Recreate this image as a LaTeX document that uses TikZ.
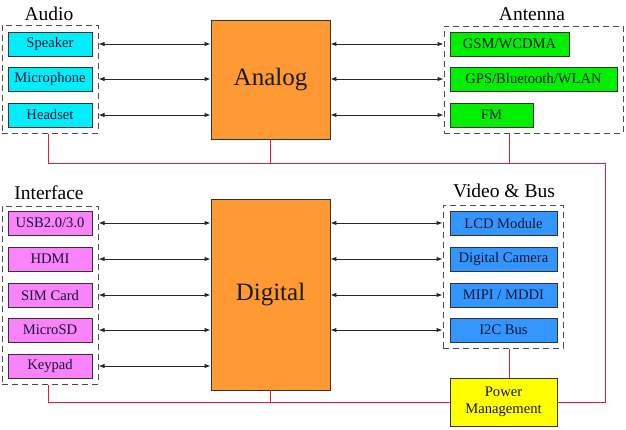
\documentclass[tikz,border=0pt]{standalone}
\usepackage{fontspec}
\setmainfont{Liberation Serif}
\usetikzlibrary{arrows.meta}
\definecolor{cy}{RGB}{0,238,250}
\definecolor{gr}{RGB}{0,240,0}
\definecolor{mg}{RGB}{250,130,250}
\definecolor{bl}{RGB}{51,150,255}
\definecolor{ye}{RGB}{255,255,0}
\definecolor{og}{RGB}{255,153,51}
\definecolor{rd}{RGB}{228,30,50}
\definecolor{tx}{RGB}{20,20,50}
\begin{document}
\begin{tikzpicture}[x=1pt,y=-1pt,
  box/.style={draw=black!80, line width=0.9pt, inner sep=0pt, text=tx, font=\fontsize{14.6}{16.5}\selectfont, minimum height=24},
  chip/.style={draw=black!80, line width=0.9pt, fill=og, inner sep=0pt, text=black!90, font=\fontsize{25}{28}\selectfont, minimum width=119},
  grp/.style={draw=black!70, line width=1pt, dash pattern=on 6pt off 4pt, inner sep=0pt},
  lbl/.style={inner sep=0pt, text=black, font=\fontsize{19.5}{22}\selectfont},
  arr/.style={black!85, line width=1pt, {Latex[length=6pt,width=4.5pt]}-{Latex[length=6pt,width=4.5pt]}},
  pw/.style={rd, line width=0.8pt}]
\useasboundingbox[fill=white] (0,0) rectangle (626,429);
% groups
\node[grp, minimum width=96, minimum height=108] (aud) at (50,79) {};
\node[grp, minimum width=179, minimum height=107] (ant) at (533.5,79.5) {};
\node[grp, minimum width=96, minimum height=178] (itf) at (50,295) {};
\node[grp, minimum width=120, minimum height=143] (vid) at (503,276.5) {};
% labels
\node[lbl] (audl) at (49,14) {Audio};
\node[lbl] (antl) at (532,14) {Antenna};
\node[lbl] (itfl) at (49,193) {Interface};
\node[lbl] (vidl) at (504,191) {Video \& Bus};
% chips
\node[chip, minimum height=119] (analog) at (270.5,79.5) {Analog};
\node[chip, minimum height=191] (digital) at (270.5,294.5) {Digital};
% audio
\node[box, fill=cy, minimum width=84] (spk) at (50,44) {Speaker};
\node[box, fill=cy, minimum width=84] (mic) at (50,79) {Microphone};
\node[box, fill=cy, minimum width=84] (hs) at (50,115) {Headset};
% antenna
\node[box, fill=gr, minimum width=119] (gsm) at (509.5,44) {GSM/WCDMA};
\node[box, fill=gr, minimum width=167] (gps) at (533.5,79) {GPS/Bluetooth/WLAN};
\node[box, fill=gr, minimum width=83] (fm) at (491.5,115) {FM};
% interface
\node[box, fill=mg, minimum width=84] (usb) at (50,223) {USB2.0/3.0};
\node[box, fill=mg, minimum width=84] (hdmi) at (50,259) {HDMI};
\node[box, fill=mg, minimum width=84] (sim) at (50,295) {SIM Card};
\node[box, fill=mg, minimum width=84] (sd) at (50,330) {MicroSD};
\node[box, fill=mg, minimum width=84] (kp) at (50,366) {Keypad};
% video & bus
\node[box, fill=bl, minimum width=107] (lcd) at (503.5,223) {LCD Module};
\node[box, fill=bl, minimum width=107] (cam) at (503.5,259) {Digital Camera};
\node[box, fill=bl, minimum width=107] (mipi) at (503.5,295) {MIPI / MDDI};
\node[box, fill=bl, minimum width=107] (i2c) at (503.5,330) {I2C Bus};
% power
\node[box, fill=ye, minimum width=107, minimum height=48, align=center] (pm) at (503.5,402) {Power\\Management};
% arrows
\foreach \n in {spk,mic,hs} \draw[arr] (aud.east |- \n) -- (analog.west |- \n);
\foreach \n in {gsm,gps,fm} \draw[arr] (analog.east |- \n) -- (ant.west |- \n);
\foreach \n in {usb,hdmi,sim,sd,kp} \draw[arr] (itf.east |- \n) -- (digital.west |- \n);
\foreach \n in {lcd,cam,mipi,i2c} \draw[arr] (digital.east |- \n) -- (vid.west |- \n);
% power lines
\coordinate (bus) at (605,163);
\coordinate (audb) at ([xshift=-2]aud.south);
\coordinate (antb) at ([xshift=-24.5]ant.south);
\coordinate (itfb) at ([xshift=-2]itf.south);
\coordinate (vidb) at ([xshift=6]vid.south);
\draw[pw] (audb) |- (bus) |- (pm.east);
\draw[pw] (analog.south) -- (analog.south |- bus);
\draw[pw] (antb) -- (antb |- bus);
\draw[pw] (itfb) |- (pm.west);
\draw[pw] (digital.south) -- (digital.south |- pm.west);
\draw[pw] (vidb) -- (vidb |- pm.north);
\end{tikzpicture}
\end{document}
